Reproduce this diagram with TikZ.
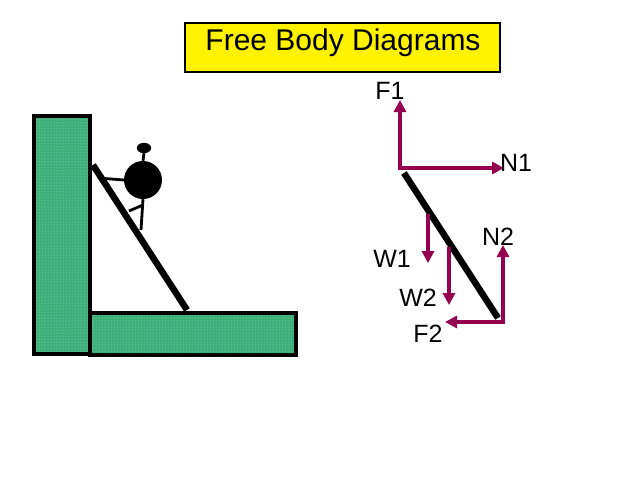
\documentclass[tikz,border=0pt]{standalone}
\usepackage{fontspec}
\setmainfont{Liberation Sans}
\usetikzlibrary{arrows.meta,patterns,shapes.geometric}
\definecolor{wallgreen}{RGB}{60,175,120}
\definecolor{forcec}{RGB}{150,0,80}
\tikzset{
  block/.style={draw=black,line width=4pt,fill=wallgreen},
  force/.style={draw=forcec,line width=3.8pt,-{Triangle[length=12pt,width=12pt]}},
  lbl/.style={font=\fontsize{25}{25}\selectfont,inner sep=0pt},
  limb/.style={line width=2.8pt}
}
\begin{document}
\begin{tikzpicture}[x=1pt,y=-1pt]
\useasboundingbox (0,0) rectangle (640,480);
% wall and floor
\path[block] (34,116) rectangle (90,354);
\path[block] (90,313) rectangle (296,355);
\path[pattern=dots,pattern color=white!60!wallgreen] (36,118) rectangle (88,352);
\path[pattern=dots,pattern color=white!60!wallgreen] (92,315) rectangle (294,353);
% ladder
\coordinate (la) at (93,165);
\coordinate (lb) at (187,310);
\draw[line width=6.5pt] (la) -- (lb);
% person
\node[draw,fill=black,ellipse,minimum width=14pt,minimum height=10pt,inner sep=0pt] (head) at (144,148) {};
\node[circle,fill=black,minimum size=38pt,inner sep=0pt] (body) at (143,180) {};
\draw[limb] (head.south) -- (body.north);
\draw[limb] (98,178) -- (body.west);
\draw[limb] (body.south) -- (141,230);
\draw[limb] (143,205) -- (129,211);
% title
\node[draw,fill=yellow,line width=1.5pt,minimum width=315pt,minimum height=49pt,inner sep=0pt] (title) at (342.5,47.5) {};
\node[lbl,font=\fontsize{30}{30}\selectfont] (titletext) at (343,43) {Free Body Diagrams};
% ladder FBD
\coordinate (s1) at (404,173);
\coordinate (s2) at (498,318);
\draw[line width=6.5pt] (s1) -- (s2);
\coordinate (f1s) at (400,170); \coordinate (f1e) at (400,100);
\coordinate (n1s) at (400,168); \coordinate (n1e) at (504,168);
\coordinate (w1s) at (428,214); \coordinate (w1e) at (428,263);
\coordinate (w2s) at (449,247); \coordinate (w2e) at (449,305);
\coordinate (n2s) at (503,322); \coordinate (n2e) at (503,245);
\coordinate (f2s) at (505,322); \coordinate (f2e) at (445,322);
\draw[force] (f1s) -- (f1e);
\draw[force] (n1s) -- (n1e);
\draw[force] (w1s) -- (w1e);
\draw[force] (w2s) -- (w2e);
\draw[force] (n2s) -- (n2e);
\draw[force] (f2s) -- (f2e);
\node[lbl] (lf1) at (390,91) {F1};
\node[lbl] (ln1) at (516,163) {N1};
\node[lbl] (lw1) at (392,259) {W1};
\node[lbl] (lw2) at (418,298) {W2};
\node[lbl] (ln2) at (498,237) {N2};
\node[lbl] (lf2) at (428,334) {F2};
\end{tikzpicture}
\end{document}
